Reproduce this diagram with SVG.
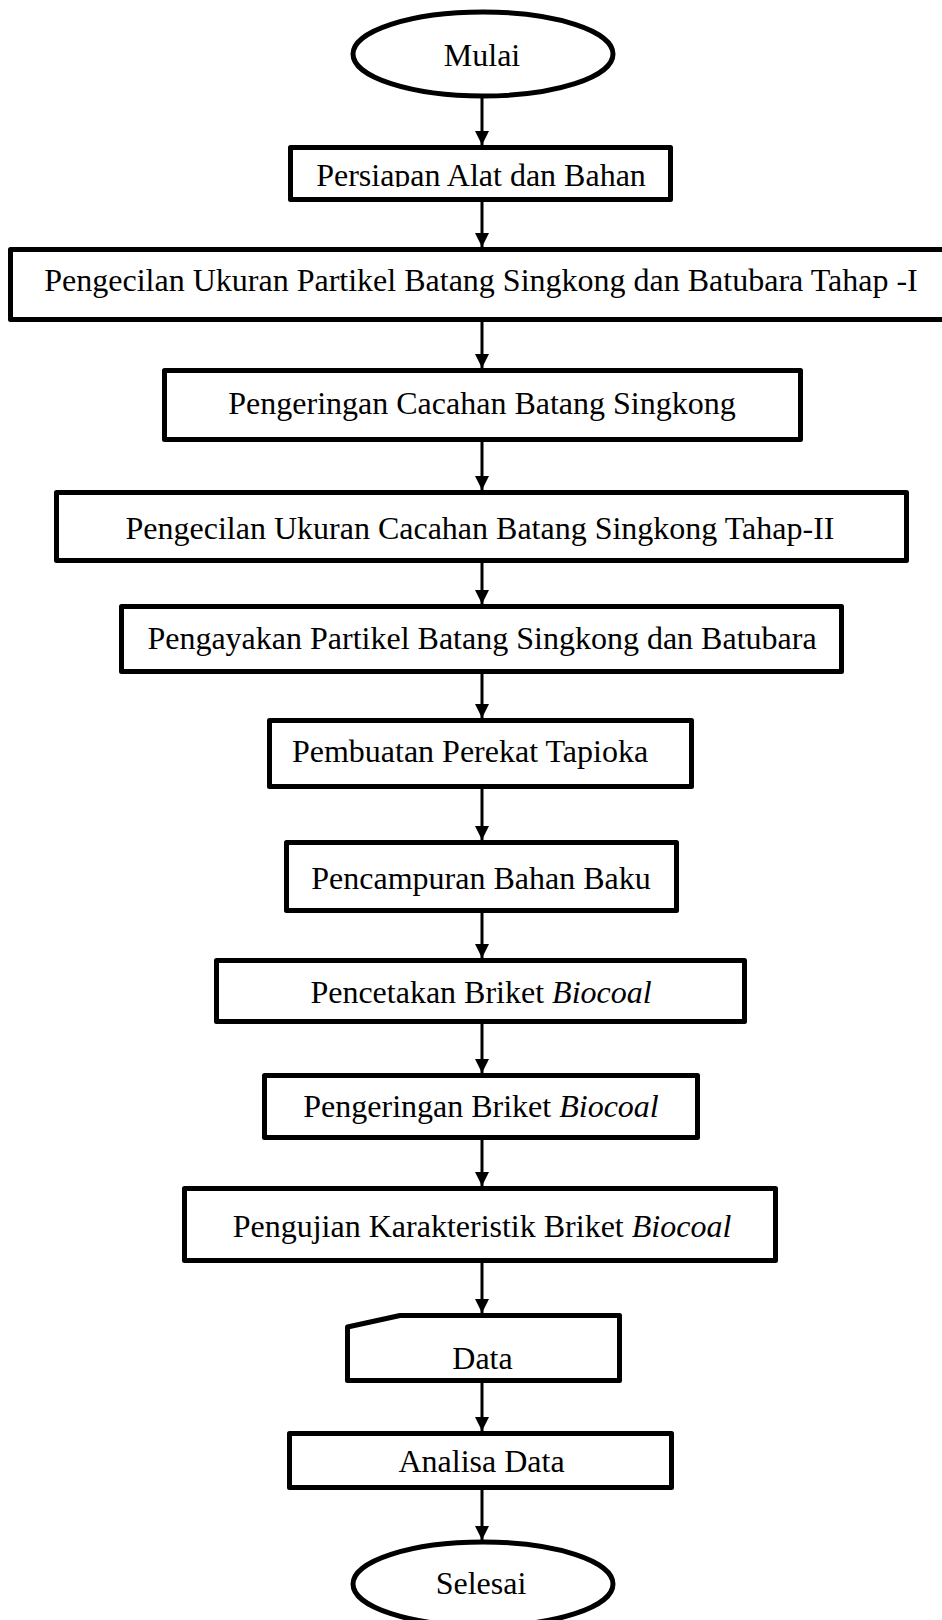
<svg xmlns="http://www.w3.org/2000/svg" width="942" height="1620" viewBox="0 0 942 1620">
<style>
.s{fill:#fff;stroke:#000;stroke-width:5;stroke-linejoin:round}
.t{font-family:"Liberation Serif","Times New Roman",serif;font-size:32px;fill:#000;text-anchor:middle}
.i{font-style:italic}
.c{stroke:#000;stroke-width:3;fill:none}
</style>
<defs>
<marker id="ah" markerUnits="userSpaceOnUse" markerWidth="14" markerHeight="14" refX="14" refY="7" orient="auto">
<path d="M0,0 L14,7 L0,14 Z" fill="#000"/>
</marker>
<clipPath id="clip1"><rect x="288" y="140" width="386" height="47"/></clipPath>
</defs>
<rect width="942" height="1620" fill="#fff"/>
<g id="connectors">
<line class="c" x1="482" y1="98" x2="482" y2="145" marker-end="url(#ah)"/>
<line class="c" x1="482" y1="202" x2="482" y2="247" marker-end="url(#ah)"/>
<line class="c" x1="482" y1="322" x2="482" y2="368" marker-end="url(#ah)"/>
<line class="c" x1="482" y1="442" x2="482" y2="490" marker-end="url(#ah)"/>
<line class="c" x1="482" y1="563" x2="482" y2="604" marker-end="url(#ah)"/>
<line class="c" x1="482" y1="674" x2="482" y2="718" marker-end="url(#ah)"/>
<line class="c" x1="482" y1="789" x2="482" y2="840" marker-end="url(#ah)"/>
<line class="c" x1="482" y1="913" x2="482" y2="958" marker-end="url(#ah)"/>
<line class="c" x1="482" y1="1024" x2="482" y2="1073" marker-end="url(#ah)"/>
<line class="c" x1="482" y1="1140" x2="482" y2="1186" marker-end="url(#ah)"/>
<line class="c" x1="482" y1="1263" x2="482" y2="1313" marker-end="url(#ah)"/>
<line class="c" x1="482" y1="1383" x2="482" y2="1431" marker-end="url(#ah)"/>
<line class="c" x1="482" y1="1490" x2="482" y2="1540" marker-end="url(#ah)"/>
</g>
<g id="mulai">
<ellipse class="s" cx="483" cy="54" rx="130" ry="42"/>
<text class="t" x="482" y="66">Mulai</text>
</g>
<g id="persiapan">
<rect class="s" x="290.5" y="147.5" width="380" height="52"/>
<text class="t" x="481" y="186" clip-path="url(#clip1)">Persiapan Alat dan Bahan</text>
</g>
<g id="pengecilan1">
<rect class="s" x="10.5" y="249.5" width="935" height="70"/>
<text class="t" x="481" y="291">Pengecilan Ukuran Partikel Batang Singkong dan Batubara Tahap -I</text>
</g>
<g id="pengeringan-cacahan">
<rect class="s" x="164.5" y="370.5" width="636" height="69"/>
<text class="t" x="482" y="414">Pengeringan Cacahan Batang Singkong</text>
</g>
<g id="pengecilan2">
<rect class="s" x="56.5" y="492.5" width="850" height="68"/>
<text class="t" x="480" y="539">Pengecilan Ukuran Cacahan Batang Singkong Tahap-II</text>
</g>
<g id="pengayakan">
<rect class="s" x="121.5" y="606.5" width="720" height="65"/>
<text class="t" x="482" y="649">Pengayakan Partikel Batang Singkong dan Batubara</text>
</g>
<g id="perekat">
<rect class="s" x="269.5" y="720.5" width="422" height="66"/>
<text class="t" x="470" y="762">Pembuatan Perekat Tapioka</text>
</g>
<g id="pencampuran">
<rect class="s" x="286.5" y="842.5" width="390" height="68"/>
<text class="t" x="481" y="889">Pencampuran Bahan Baku</text>
</g>
<g id="pencetakan">
<rect class="s" x="216.5" y="960.5" width="528" height="61"/>
<text class="t" x="481" y="1003">Pencetakan Briket <tspan class="i">Biocoal</tspan></text>
</g>
<g id="pengeringan-briket">
<rect class="s" x="264.5" y="1075.5" width="433" height="62"/>
<text class="t" x="481" y="1117">Pengeringan Briket <tspan class="i">Biocoal</tspan></text>
</g>
<g id="pengujian">
<rect class="s" x="184.5" y="1188.5" width="591" height="72"/>
<text class="t" x="482" y="1237">Pengujian Karakteristik Briket <tspan class="i">Biocoal</tspan></text>
</g>
<g id="data">
<path class="s" d="M347.5,1327 L400,1315.5 L619.5,1315.5 L619.5,1380.5 L347.5,1380.5 Z"/>
<text class="t" x="482.5" y="1369">Data</text>
</g>
<g id="analisa">
<rect class="s" x="289.5" y="1433.5" width="382" height="54"/>
<text class="t" x="481.5" y="1472">Analisa Data</text>
</g>
<g id="selesai">
<ellipse class="s" cx="483" cy="1584" rx="130" ry="42"/>
<text class="t" x="481" y="1594">Selesai</text>
</g>
</svg>
